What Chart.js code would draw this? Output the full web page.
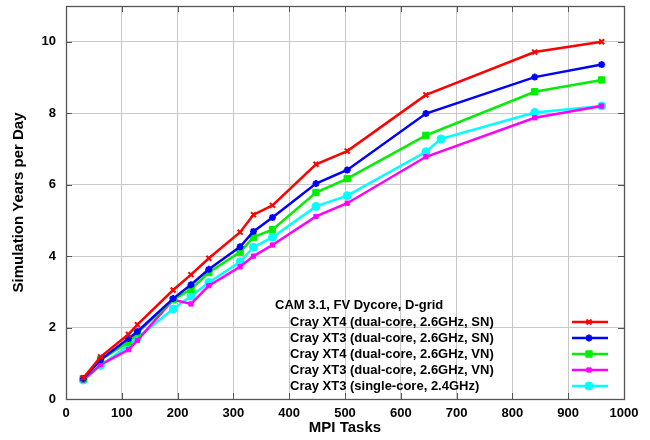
<!DOCTYPE html>
<html>
<head>
<meta charset="utf-8">
<script src="https://cdn.jsdelivr.net/npm/chart.js@4/dist/chart.umd.min.js"></script>
<style>
  html, body { margin: 0; padding: 0; background: #fff; }
  #wrap { width: 650px; height: 440px; }
</style>
</head>
<body>
<div id="wrap"><canvas id="myChart" width="650" height="440"></canvas></div>
<script>
// MPI task counts
var tasks = [31, 62, 112, 128, 192, 224, 256, 312, 336, 370, 448, 504, 645, 840, 960];
var tasksSingle = [31, 62, 112, 128, 192, 224, 256, 312, 336, 370, 448, 504, 645, 672, 840, 960];

// simulation years per day
var xt4SN = [0.59, 1.18, 1.81, 2.08, 3.05, 3.48, 3.94, 4.67, 5.16, 5.42, 6.57, 6.94, 8.51, 9.71, 10.0];
var xt3SN = [0.57, 1.10, 1.69, 1.89, 2.81, 3.20, 3.63, 4.26, 4.69, 5.08, 6.03, 6.41, 7.99, 9.01, 9.36];
var xt4VN = [0.57, 1.10, 1.59, 1.85, 2.78, 3.07, 3.54, 4.11, 4.53, 4.74, 5.78, 6.17, 7.38, 8.60, 8.93];
var xt3VN = [0.53, 0.96, 1.38, 1.64, 2.78, 2.66, 3.17, 3.70, 4.00, 4.31, 5.11, 5.48, 6.78, 7.87, 8.20];
var xt3Single = [0.53, 0.94, 1.50, 1.71, 2.52, 2.88, 3.26, 3.84, 4.25, 4.53, 5.39, 5.69, 6.92, 7.28, 8.02, 8.20];

var legendTitle = "CAM 3.1, FV Dycore, D-grid";
var names = [
  "Cray XT4 (dual-core, 2.6GHz, SN)",
  "Cray XT3 (dual-core, 2.6GHz, SN)",
  "Cray XT4 (dual-core, 2.6GHz, VN)",
  "Cray XT3 (dual-core, 2.6GHz, VN)",
  "Cray XT3 (single-core, 2.4GHz)"
];
var colors = ["#ff0000", "#0000ff", "#00ee00", "#ff00ff", "#00ffff"];
var shapes = ["crossRot", "star", "rect", "rect", "circle"];
var sizes = [3.5, 3.5, 4.5, 3, 4];

function pts(xs, ys) {
  var out = [];
  for (var i = 0; i < ys.length; i++) out.push({x: xs[i], y: ys[i]});
  return out;
}

var series = [
  pts(tasks, xt4SN),
  pts(tasks, xt3SN),
  pts(tasks, xt4VN),
  pts(tasks, xt3VN),
  pts(tasksSingle, xt3Single)
];

var datasets = [];
for (var s = 0; s < series.length; s++) {
  datasets.push({
    label: names[s],
    data: series[s],
    showLine: true,
    borderColor: colors[s],
    backgroundColor: colors[s],
    borderWidth: 2.5,
    pointStyle: shapes[s],
    pointRadius: sizes[s],
    pointBorderWidth: shapes[s] == "crossRot" || shapes[s] == "star" ? 2 : 1,
    pointBorderColor: colors[s],
    tension: 0
  });
}

var FONT = '"Liberation Sans", Arial, sans-serif';

// frame, inward ticks and the legend box
function drawFrame(chart) {
  var ctx = chart.ctx;
  var a = chart.chartArea;
  var xs = chart.scales.x, ys = chart.scales.y;
  ctx.save();
  ctx.strokeStyle = '#555';
  ctx.lineWidth = 1;
  ctx.beginPath();
  xs.ticks.forEach(function(t) {
    var px = Math.round(xs.getPixelForValue(t.value)) + 0.5;
    ctx.moveTo(px, a.bottom); ctx.lineTo(px, a.bottom - 6);
    ctx.moveTo(px, a.top); ctx.lineTo(px, a.top + 6);
  });
  ys.ticks.forEach(function(t) {
    var py = Math.round(ys.getPixelForValue(t.value)) + 0.5;
    ctx.moveTo(a.left, py); ctx.lineTo(a.left + 6, py);
    ctx.moveTo(a.right, py); ctx.lineTo(a.right - 6, py);
  });
  ctx.stroke();
  ctx.lineWidth = 1.3;
  ctx.strokeRect(Math.round(a.left) + 0.5, Math.round(a.top) + 0.5, Math.round(a.right - a.left), Math.round(a.bottom - a.top));

  // legend
  ctx.font = 'bold 13px ' + FONT;
  ctx.textBaseline = 'middle';
  ctx.textAlign = 'left';
  ctx.fillStyle = '#000';
  ctx.fillText(legendTitle, 275, 305);
  for (var i = 0; i < names.length; i++) {
    var y = 322 + i * 16;
    ctx.fillStyle = '#000';
    ctx.fillText(names[i], 290, y);
    ctx.strokeStyle = colors[i];
    ctx.lineWidth = 2.5;
    ctx.beginPath();
    ctx.moveTo(572, y); ctx.lineTo(608, y);
    ctx.stroke();
    ctx.fillStyle = colors[i];
    ctx.lineWidth = datasets[i].pointBorderWidth;
    Chart.helpers.drawPoint(ctx, {
      pointStyle: shapes[i],
      radius: sizes[i],
      borderWidth: datasets[i].pointBorderWidth
    }, 589, y);
  }
  ctx.restore();
}

new Chart("myChart", {
  type: "scatter",
  data: { datasets: datasets },
  options: {
    responsive: false,
    animation: false,
    layout: { padding: { top: 3, right: 26, left: 0, bottom: 0 } },
    plugins: {
      legend: { display: false },
      tooltip: { enabled: false }
    },
    scales: {
      x: {
        type: 'linear',
        min: 0, max: 1000,
        border: { display: false },
        grid: { color: '#c8c8c8', lineWidth: 1, borderDash: [1, 2], drawTicks: false },
        ticks: {
          stepSize: 100, padding: 7, color: '#000',
          font: { family: FONT, size: 13, weight: 'bold' },
          callback: function(v) { return String(v); }
        },
        title: { display: true, text: 'MPI Tasks', color: '#000', padding: { top: 2, bottom: 3 }, font: { family: FONT, size: 15, weight: 'bold' } },
        afterFit: function(scale) {
          scale.height = 41;
          scale.paddingLeft = 0; scale.paddingRight = 0;
        }
      },
      y: {
        min: 0, max: 11,
        border: { display: false },
        grid: { color: '#c8c8c8', lineWidth: 1, borderDash: [1, 2], drawTicks: false },
        ticks: { stepSize: 2, padding: 10, color: '#000', font: { family: FONT, size: 13, weight: 'bold' } },
        afterBuildTicks: function(scale) {
          scale.ticks = scale.ticks.filter(function(t) { return t.value % 2 == 0; });
        },
        title: { display: true, text: 'Simulation Years per Day', color: '#000', padding: { top: 10, bottom: 4 }, font: { family: FONT, size: 15, weight: 'bold' } },
        afterFit: function(scale) {
          scale.width = 66;
          scale.paddingTop = 0; scale.paddingBottom = 0;
        }
      }
    }
  },
  plugins: [{
    id: 'frame',
    afterDraw: drawFrame
  }]
});
</script>
</body>
</html>
